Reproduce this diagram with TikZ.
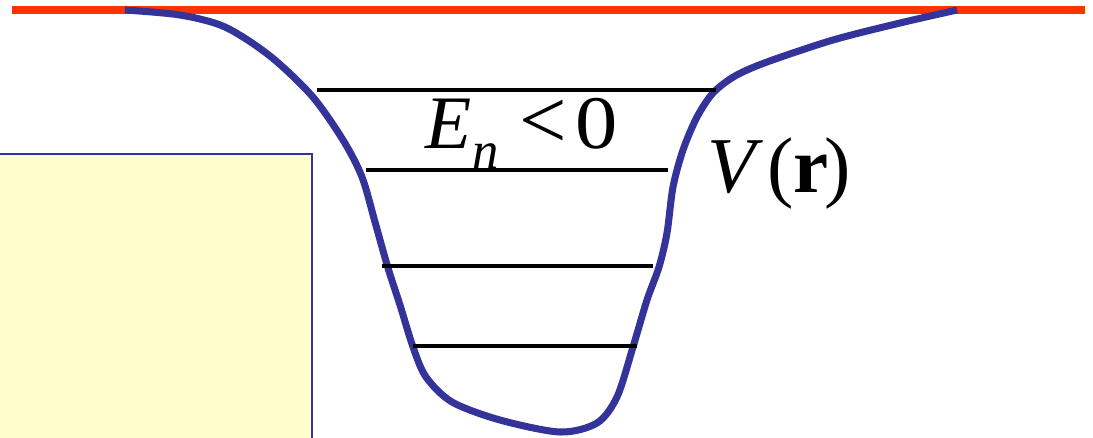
\documentclass[tikz,border=0pt]{standalone}
\usepackage{fontspec}
\usepackage{graphicx}
\setmainfont{Liberation Serif}
\begin{document}
\begin{tikzpicture}[x=0.02cm,y=-0.02cm,
  redline/.style={draw={rgb,255:red,255;green,51;blue,0}, line width=4.1pt},
  wellcurve/.style={draw={rgb,255:red,51;green,51;blue,153}, line width=4pt, line join=round},
  level/.style={draw=black, line width=1.8pt},
  panel/.style={fill={rgb,255:red,255;green,255;blue,204}},
  panelborder/.style={draw={rgb,255:red,51;green,51;blue,153}, line width=1.4pt},
  bigtext/.style={inner sep=0pt, font=\fontsize{43}{46}\selectfont},
  vtext/.style={inner sep=0pt, font=\fontsize{45}{48}\selectfont}]
\useasboundingbox (0,0) rectangle (1093,437);
\clip (0,0) rectangle (1093,437);
% yellow panel
\fill[panel] (-5,154) rectangle (312,450);
\draw[panelborder] (-5,154) -- (312,154) -- (312,450);
% red zero line
\draw[redline] (12,10) -- (1085,10);
% potential well
\draw[wellcurve] plot[smooth, tension=0.5] coordinates {
 (125,10) (180,15) (225,27) (270,56) (312,96) (343,140) (362,177)
 (375,222) (388,268) (400,305) (413,347) (426,377) (452,402) (500,420) (560,432)
 (597,423) (617,397) (633,347) (647,300) (659,267) (667,233) (673,187) (683,150)
 (697,117) (713,93) (735,76) (767,62) (833,40) (900,23) (957,10)};
% energy levels
\draw[level] (317,90) -- (716,90);
\draw[level] (366,170) -- (668,170);
\draw[level] (382,266) -- (653,266);
\draw[level] (413,346) -- (637,346);
% labels
\node[bigtext, anchor=base west] (en) at (425,148) {\textit{E}\kern0.02cm\raisebox{-0.4cm}{\fontsize{30}{31}\selectfont\textit{n}}\hspace{0.41cm}{\fontsize{48}{50}\selectfont<}\hspace{0.18cm}\scalebox{1.12}[1]{0}};
\node[vtext, anchor=base west] (vr) at (707,192) {\textit{V}\hspace{0.08cm}(\textbf{r}\kern-0.08cm)};
\end{tikzpicture}
\end{document}
